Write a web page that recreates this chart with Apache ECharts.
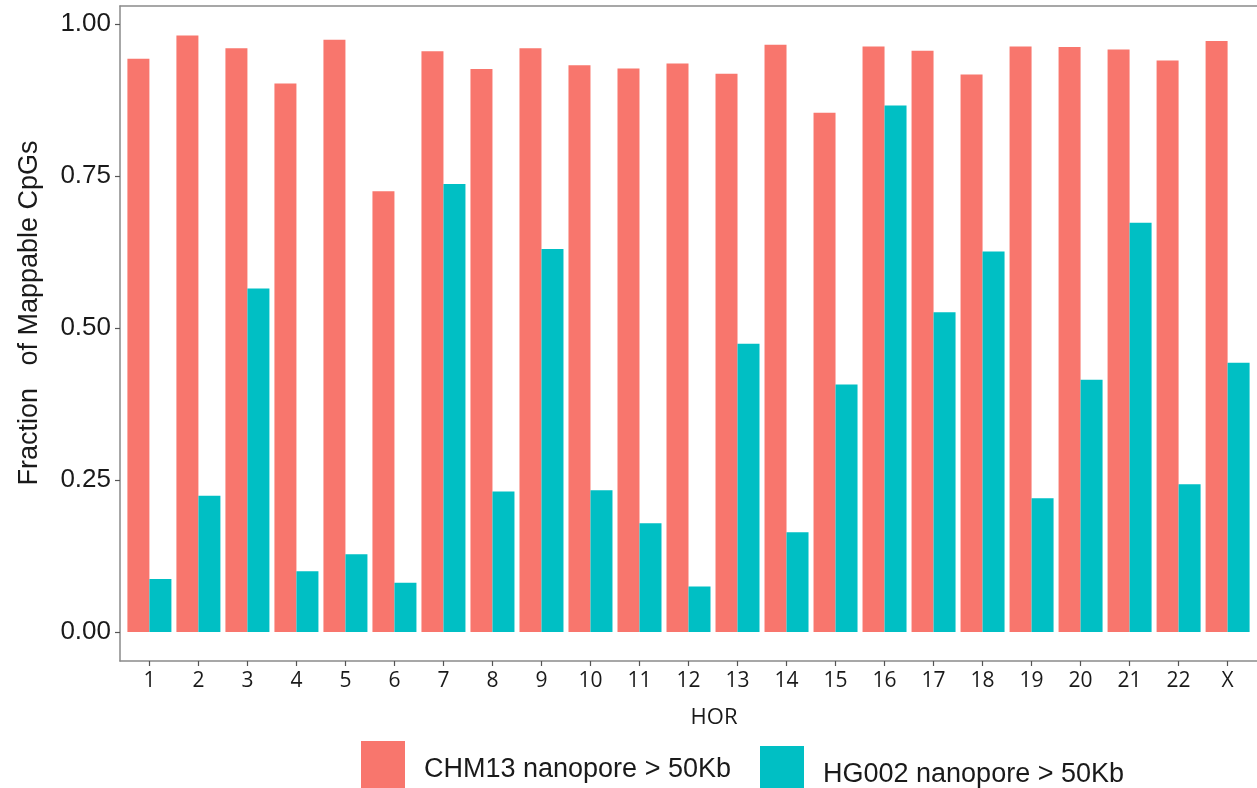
<!DOCTYPE html>
<html>
<head>
<meta charset="utf-8">
<script src="https://cdn.jsdelivr.net/npm/echarts@6/dist/echarts.min.js"></script>
<style>
  html, body { margin: 0; padding: 0; background: #ffffff; }
  #chart { width: 1257px; height: 788px; }
</style>
</head>
<body>
<div id="chart"></div>
<script>
// HOR arrays (chromosomes) and the fraction of mappable CpGs per read set
const categories = ['1','2','3','4','5','6','7','8','9','10','11','12','13','14','15','16','17','18','19','20','21','22','X'];
const chm13 = [0.943,0.981,0.960,0.902,0.974,0.725,0.955,0.926,0.960,0.932,0.927,0.935,0.918,0.966,0.854,0.963,0.956,0.917,0.963,0.962,0.958,0.940,0.972];
const hg002 = [0.087,0.224,0.565,0.100,0.128,0.081,0.737,0.231,0.630,0.233,0.179,0.075,0.474,0.164,0.407,0.866,0.526,0.626,0.220,0.415,0.673,0.243,0.443];
const yTicks = [0, 0.25, 0.5, 0.75, 1.0];
const seriesNames = ['CHM13 nanopore > 50Kb', 'HG002 nanopore > 50Kb'];

const RED = '#F8766D';
const TEAL = '#00BFC4';
const AXIS = '#8a8a8a';

// discrete positions 1..N on a numeric axis, padded by 0.6 of a slot on each side
const positions = categories.map((_, i) => i + 1);
const toPairs = vals => vals.map((v, i) => [positions[i], v]);

const chart = echarts.init(document.getElementById('chart'), null, { renderer: 'canvas' });

// legend labels sit a little below the key centre
const legendText = {
  fontFamily: 'Liberation Sans', fontSize: 27, color: '#1a1a1a', padding: [0, 0, 0, 14],
  rich: { t: { fontFamily: 'Liberation Sans', fontSize: 27, color: '#1a1a1a', lineHeight: 37, verticalAlign: 'bottom' } }
};
const legendFormatter = name => '{t|' + name + '}';

chart.setOption({
  animation: false,
  backgroundColor: '#ffffff',
  grid: { left: 120, right: 0, top: 6, bottom: 127, containLabel: false },
  legend: [
    {
      data: [seriesNames[0]], left: 361, top: 741, padding: 0,
      itemWidth: 44, itemHeight: 47, icon: 'rect',
      formatter: legendFormatter, textStyle: legendText
    },
    {
      data: [seriesNames[1]], left: 760, top: 746, padding: 0,
      itemWidth: 44, itemHeight: 47, icon: 'rect',
      formatter: legendFormatter, textStyle: legendText
    }
  ],
  xAxis: [
    {
      type: 'value',
      min: 0.4,
      max: categories.length + 0.6,
      axisLine: { show: true, onZero: false, lineStyle: { color: AXIS, width: 1.5 } },
      axisTick: { show: true, length: 5, customValues: positions, lineStyle: { color: '#555', width: 1.2 } },
      axisLabel: {
        customValues: positions,
        formatter: v => categories[Math.round(v) - 1],
        fontFamily: 'Open Sans', fontSize: 21, color: '#1a1a1a', margin: 10
      },
      splitLine: { show: false }
    },
    {
      type: 'value',
      position: 'top',
      min: 0.4,
      max: categories.length + 0.6,
      axisLine: { show: true, onZero: false, lineStyle: { color: AXIS, width: 1.5 } },
      axisTick: { show: false },
      axisLabel: { show: false },
      splitLine: { show: false }
    }
  ],
  yAxis: {
    type: 'value',
    min: -0.0477,
    max: 1.0296,
    axisLine: { show: true, lineStyle: { color: AXIS, width: 1.5 } },
    axisTick: { show: true, length: 5, customValues: yTicks, lineStyle: { color: '#555', width: 1.2 } },
    axisLabel: {
      customValues: yTicks,
      fontFamily: 'Liberation Sans', fontSize: 26, color: '#1a1a1a', margin: 9,
      formatter: v => v.toFixed(2)
    },
    splitLine: { show: false }
  },
  graphic: [
    {
      type: 'text',
      x: 16, y: 313,
      rotation: Math.PI / 2,
      style: {
        text: 'Fraction   of Mappable CpGs',
        fontFamily: 'Liberation Sans', fontSize: 27, fill: '#1a1a1a',
        align: 'center', verticalAlign: 'top'
      }
    },
    {
      type: 'text',
      x: 714, y: 718,
      style: {
        text: 'HOR',
        fontFamily: 'Open Sans', fontSize: 22, fill: '#1a1a1a',
        align: 'center', verticalAlign: 'middle'
      }
    }
  ],
  series: [
    {
      name: seriesNames[0], type: 'bar', data: toPairs(chm13),
      itemStyle: { color: RED },
      barWidth: 22, barGap: '0%'
    },
    {
      name: seriesNames[1], type: 'bar', data: toPairs(hg002),
      itemStyle: { color: TEAL },
      barWidth: 22, barGap: '0%'
    }
  ]
});
</script>
</body>
</html>
